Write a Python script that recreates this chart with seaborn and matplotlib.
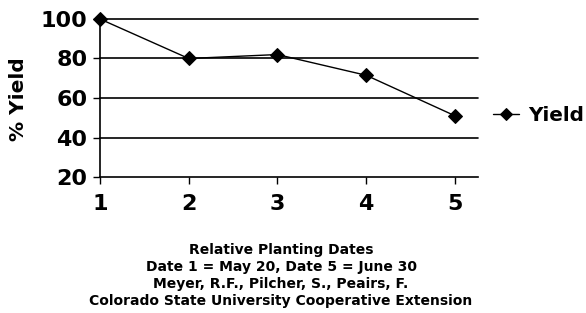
import matplotlib
matplotlib.use("Agg")
import matplotlib.pyplot as plt
import seaborn as sns
import pandas as pd

dates = [1, 2, 3, 4, 5]
yield_pct = [100, 80, 82, 71.5, 51]
yticks = [20, 40, 60, 80, 100]
caption = ["Relative Planting Dates",
           "Date 1 = May 20, Date 5 = June 30",
           "Meyer, R.F., Pilcher, S., Peairs, F.",
           "Colorado State University Cooperative Extension"]

sns.set_theme(style="white")
plt.rcParams['font.family'] = ['DejaVu Sans']
plt.rcParams['font.weight'] = 'bold'
plt.rcParams['text.color'] = 'black'
plt.rcParams['axes.labelcolor'] = 'black'
plt.rcParams['xtick.color'] = 'black'
plt.rcParams['ytick.color'] = 'black'

df = pd.DataFrame({"Date": dates, "Yield": yield_pct})

fig = plt.figure(figsize=(5.86, 3.13), dpi=100)
ax = fig.add_axes([0.1706, 0.4345, 0.8157 - 0.1706, 0.9393 - 0.4345])

for y in yticks[1:]:
    ax.axhline(y, color="black", lw=1.2, zorder=1, clip_on=False)

sns.lineplot(data=df, x="Date", y="Yield", ax=ax, color="black", lw=1.0,
             marker="D", markersize=7.2, markeredgecolor="black",
             label="Yield", clip_on=False, zorder=3)

ax.set_xlim(1, 5.26)
ax.set_ylim(20, 100)
ax.set_xticks(dates)
ax.set_yticks(yticks)
ax.tick_params(axis="both", which="major", labelsize=16, length=5, width=1,
               direction="out", colors="black", bottom=True, left=True)
ax.tick_params(axis="x", pad=7)
ax.tick_params(axis="y", pad=4)
for lab in ax.get_xticklabels() + ax.get_yticklabels():
    lab.set_fontweight("bold")
ax.set_xlabel("")
ax.set_ylabel("% Yield", fontsize=14.5, fontweight="bold")
ax.yaxis.set_label_coords(-0.19, 0.49)
for s in ["top", "right"]:
    ax.spines[s].set_visible(False)
for s in ["left", "bottom"]:
    ax.spines[s].set_color("black")
    ax.spines[s].set_linewidth(1.2)

leg = ax.legend(loc="center left", bbox_to_anchor=(1.0397, 0.392), frameon=False,
                borderpad=0, borderaxespad=0, handlelength=1.3, handletextpad=0.45,
                markerscale=0.85, prop={"weight": "bold", "size": 14.4})

for i, line in enumerate(caption):
    fig.text(281 / 586, 1 - (250 + 17 * i) / 313, line, ha="center", va="center",
             fontsize=10, fontweight="bold")

fig.savefig("out.png", dpi=100)
